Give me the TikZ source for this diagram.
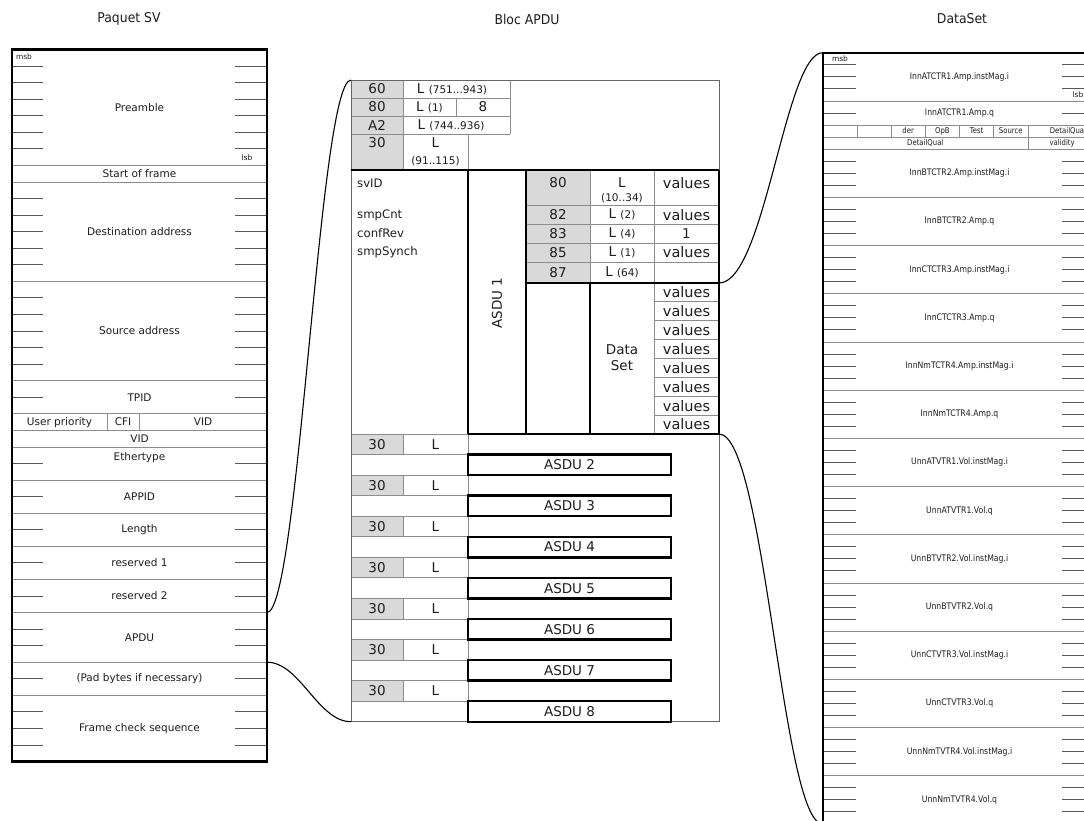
\documentclass[tikz,border=0pt]{standalone}
\usepackage{fontspec}
\setmainfont{DejaVu Sans}
\newfontfamily\narrowfont[FakeStretch=0.86]{DejaVu Sans}
\newfontfamily\titlefont[FakeStretch=0.92]{DejaVu Sans}
\definecolor{gridgray}{HTML}{8C8C8C}
\definecolor{cellgray}{HTML}{D9D9D9}
\definecolor{txt}{HTML}{1E1E1E}
\newcommand\smallp{\fontsize{10.5}{12}\selectfont}
\begin{document}
\begin{tikzpicture}[x=1pt,y=-1pt,
  gline/.style={draw=gridgray,line width=0.8pt},
  tline/.style={draw=black,line width=2.4pt},
  tickl/.style={draw=black!65,line width=0.9pt},
  obox/.style={draw=black!60,line width=0.9pt},
  conn/.style={draw=black,line width=1.1pt},
  ttl/.style={inner sep=0pt,text=txt,font=\titlefont\fontsize{13.5}{16}\selectfont},
  lbl/.style={inner sep=0pt,text=txt,font=\fontsize{10.5}{12}\selectfont},
  tiny/.style={inner sep=0pt,text=txt,font=\fontsize{7.5}{9}\selectfont},
  mid/.style={inner sep=0pt,text=txt,font=\fontsize{13.5}{16}\selectfont},
  midv/.style={inner sep=0pt,text=txt,font=\fontsize{14.5}{17}\selectfont},
  fld/.style={inner sep=0pt,text=txt,anchor=west,font=\fontsize{11.7}{14}\selectfont},
  dsl/.style={inner sep=0pt,text=txt,font=\narrowfont\fontsize{9}{11}\selectfont},
  dss/.style={inner sep=0pt,text=txt,font=\narrowfont\fontsize{8}{10}\selectfont}
]
\useasboundingbox (0,0) rectangle (1084,820);
\clip (0,0) rectangle (1084,820);
\fill[white] (0,0) rectangle (1084,820);

% ---------------- titles
\node[ttl] (t1) at (129,19) {Paquet SV};
\node[ttl] (t2) at (527,19) {Bloc APDU};
\node[ttl] (t3) at (962,19) {DataSet};

% ---------------- Paquet SV
\foreach \k in {7,8,14,20,22,23,24,26,28,30,32,34,37,39}
  \draw[gline] (12,{49.5+\k*16.56}) -- (267,{49.5+\k*16.56});
\foreach \k in {1,2,3,4,5,6,9,10,11,12,13,15,16,17,18,19,21,25,27,29,31,33,35,36,38,40,41,42}{
  \draw[tickl] (12,{49.5+\k*16.56}) -- (43,{49.5+\k*16.56});
  \draw[tickl] (235,{49.5+\k*16.56}) -- (267,{49.5+\k*16.56});
}
\draw[gline] (107,{49.5+22*16.56}) -- (107,{49.5+23*16.56});
\draw[gline] (139,{49.5+22*16.56}) -- (139,{49.5+23*16.56});
\draw[draw=black,line width=2.6pt] (12,49.5) rectangle (267,761.6);

\node[tiny] (msbL) at (24,57) {msb};
\node[tiny] (lsbL) at (247,158) {lsb};
\node[lbl] (pre) at (139.5,107.5) {Preamble};
\node[lbl] (sof) at (139.5,173.7) {Start of frame};
\node[lbl] (dst) at (139.5,231.7) {Destination address};
\node[lbl] (src) at (139.5,331) {Source address};
\node[lbl] (tpid) at (139.5,397.3) {TPID};
\node[lbl] (upri) at (59.5,422.1) {User priority};
\node[lbl] (cfi) at (123,422.1) {CFI};
\node[lbl] (vida) at (203,422.1) {VID};
\node[lbl] (vidb) at (139.5,438.7) {VID};
\node[lbl] (eth) at (139.5,458) {Ethertype};
\node[lbl] (appid) at (139.5,496.6) {APPID};
\node[lbl] (len) at (139.5,529.7) {Length};
\node[lbl] (res1) at (139.5,562.8) {reserved 1};
\node[lbl] (res2) at (139.5,595.9) {reserved 2};
\node[lbl] (apdu) at (139.5,637.4) {APDU};
\node[lbl] (pad) at (139.5,678.8) {(Pad bytes if necessary)};
\node[lbl] (fcs) at (139.5,728.5) {Frame check sequence};

% ---------------- Bloc APDU
\fill[cellgray] (351,80) rectangle (403,170);
\fill[cellgray] (526,170) rectangle (590,283);
\foreach \k in {0,2,...,12}
  \fill[cellgray] (351,{434+\k*20.55}) rectangle (403,{434+(\k+1)*20.55});

\draw[gline] (351,98) -- (510,98);
\draw[gline] (351,116) -- (510,116);
\draw[gline] (351,134) -- (510,134);
\draw[gline] (510,80) -- (510,134);
\draw[gline] (403,80) -- (403,170);
\draw[gline] (456,98) -- (456,116);
\draw[gline] (468,134) -- (468,170);
\foreach \yy in {205.5,224,243,262}
  \draw[gline] (526,\yy) -- (719,\yy);
\draw[gline] (590,170) -- (590,283);
\draw[gline] (654,170) -- (654,434);
\foreach \j in {1,...,7}
  \draw[gline] (654,{283+\j*18.875}) -- (719,{283+\j*18.875});
\draw[gline] (351,434) -- (468,434);
\foreach \k in {1,...,13}
  \draw[gline] (351,{434+\k*20.55}) -- (468,{434+\k*20.55});
\draw[gline] (468,434) -- (468,721.7);
\foreach \k in {0,2,...,12}
  \draw[gline] (403,{434+\k*20.55}) -- (403,{434+(\k+1)*20.55});
\draw[obox] (351,80) rectangle (719,721.7);

\draw[tline] (351,170) -- (719,170);
\draw[tline] (468,170) -- (468,434);
\draw[tline] (526,170) -- (526,434);
\draw[tline] (526,283) -- (719,283);
\draw[tline] (590,283) -- (590,434);
\draw[tline] (468,434) -- (719,434);
\draw[tline] (719,170) -- (719,434);
\foreach \k in {1,3,...,13}{
  \pgfmathtruncatemacro\n{(\k+3)/2}
  \draw[tline] (468,{434+\k*20.55}) rectangle (671,{434+(\k+1)*20.55});
  \node[mid] (asdu\n) at (569.5,{434+(\k+0.5)*20.55}) {ASDU \n};
}
\foreach \k in {0,2,...,12}{
  \node[mid] (tg\k) at (377,{434+(\k+0.5)*20.55}) {30};
  \node[mid] (ln\k) at (435.5,{434+(\k+0.5)*20.55}) {L};
}

\node[mid] (t60) at (377,89) {60};
\node[mid] (l60) at (452,89) {L \smallp(751...943)};
\node[mid] (t80) at (377,107) {80};
\node[mid] (l80) at (429.5,107) {L \smallp(1)};
\node[mid] (v80) at (483,107) {8};
\node[mid] (tA2) at (377,125) {A2};
\node[mid] (lA2) at (451,125) {L \smallp(744..936)};
\node[mid] (t30) at (377,143) {30};
\node[mid] (l30) at (435.5,143) {L};
\node[mid,font=\smallp] (r30) at (435.5,161) {(91..115)};

\node[fld] (svid) at (357,183) {svID};
\node[fld] (smpc) at (357,215) {smpCnt};
\node[fld] (confr) at (357,233.5) {confRev};
\node[fld] (smps) at (357,252.5) {smpSynch};
\node[mid,rotate=90] (asdu1) at (497,303) {ASDU 1};

\node[mid] (s80) at (558,183) {80};
\node[mid] (sl80) at (622,183) {L};
\node[mid,font=\smallp] (sr80) at (622,198.5) {(10..34)};
\node[midv] (sv80) at (686.5,183) {values};
\node[mid] (s82) at (558,214.7) {82};
\node[mid] (sl82) at (622,214.7) {L \smallp(2)};
\node[midv] (sv82) at (686.5,214.7) {values};
\node[mid] (s83) at (558,233.5) {83};
\node[mid] (sl83) at (622,233.5) {L \smallp(4)};
\node[mid] (sv83) at (686.5,233.5) {1};
\node[mid] (s85) at (558,252.5) {85};
\node[mid] (sl85) at (622,252.5) {L \smallp(1)};
\node[midv] (sv85) at (686.5,252.5) {values};
\node[mid] (s87) at (558,272.5) {87};
\node[mid] (sl87) at (622,272.5) {L \smallp(64)};
\node[mid,align=center] (dset) at (622,358) {Data\\Set};
\foreach \j in {0,...,7}
  \node[midv] (dv\j) at (686.5,{283+(\j+0.5)*18.875}) {values};

% ---------------- DataSet
\foreach \b in {1,...,15}
  \draw[gline] (822.7,{52.7+48.2*\b}) -- (1096.3,{52.7+48.2*\b});
\foreach \b in {0,2,3,...,15}{
  \foreach \j in {1,2,3}{
    \draw[tickl] (822.7,{52.7+48.2*\b+12.05*\j}) -- (856,{52.7+48.2*\b+12.05*\j});
    \draw[tickl] (1062,{52.7+48.2*\b+12.05*\j}) -- (1096.3,{52.7+48.2*\b+12.05*\j});
  }
}
\draw[tickl] (822.7,112.95) -- (856,112.95);
\draw[tickl] (1062,112.95) -- (1096.3,112.95);
\draw[gline] (822.7,125) -- (1096.3,125);
\draw[gline] (822.7,137.05) -- (1096.3,137.05);
\foreach \i in {1,...,6}
  \draw[gline] ({822.7+34.2*\i},125) -- ({822.7+34.2*\i},137.05);
\draw[gline] (1027.9,137.05) -- (1027.9,149.1);
\draw[draw=black,line width=2.4pt] (822.7,52.7) rectangle (1096.3,823.9);

\node[tiny] (msbR) at (840,58.5) {msb};
\node[tiny] (lsbR) at (1078,94.5) {lsb};
\foreach \b/\t in {0/InnATCTR1.Amp.instMag.i,2/InnBTCTR2.Amp.instMag.i,3/InnBTCTR2.Amp.q,
  4/InnCTCTR3.Amp.instMag.i,5/InnCTCTR3.Amp.q,6/InnNmTCTR4.Amp.instMag.i,7/InnNmTCTR4.Amp.q,
  8/UnnATVTR1.Vol.instMag.i,9/UnnATVTR1.Vol.q,10/UnnBTVTR2.Vol.instMag.i,11/UnnBTVTR2.Vol.q,
  12/UnnCTVTR3.Vol.instMag.i,13/UnnCTVTR3.Vol.q,14/UnnNmTVTR4.Vol.instMag.i,15/UnnNmTVTR4.Vol.q}
  \node[dsl] (dsl\b) at (959.5,{52.7+48.2*\b+24.1}) {\t};
\node[dsl] (dsl1) at (959.5,112.95) {InnATCTR1.Amp.q};
\node[dss] (bder) at (908.2,131) {der};
\node[dss] (bopb) at (942.4,131) {OpB};
\node[dss] (btest) at (976.6,131) {Test};
\node[dss] (bsrc) at (1010.8,131) {Source};
\node[dss] (bdq1) at (1068,131) {DetailQual};
\node[dss] (bdq2) at (925.3,143) {DetailQual};
\node[dss] (bval) at (1062.1,143) {validity};

% ---------------- connectors
\coordinate (svA) at (267,612.5);
\coordinate (apTL) at (351,80);
\coordinate (svB) at (267,662.2);
\coordinate (apBL) at (351,721.7);
\coordinate (apA) at (719,283);
\coordinate (dsTL) at (822.7,52.7);
\coordinate (apB) at (719,434);
\coordinate (dsBL) at (822.7,823.9);
\draw[conn] (svA) .. controls (299,612.5) and (319,80) .. (apTL);
\draw[conn] (svB) .. controls (300,662.2) and (318,721.7) .. (apBL);
\draw[conn] (apA) .. controls (765,283) and (785,52.7) .. (dsTL);
\draw[conn] (apB) .. controls (765,434) and (782,823.9) .. (dsBL);
\end{tikzpicture}
\end{document}
